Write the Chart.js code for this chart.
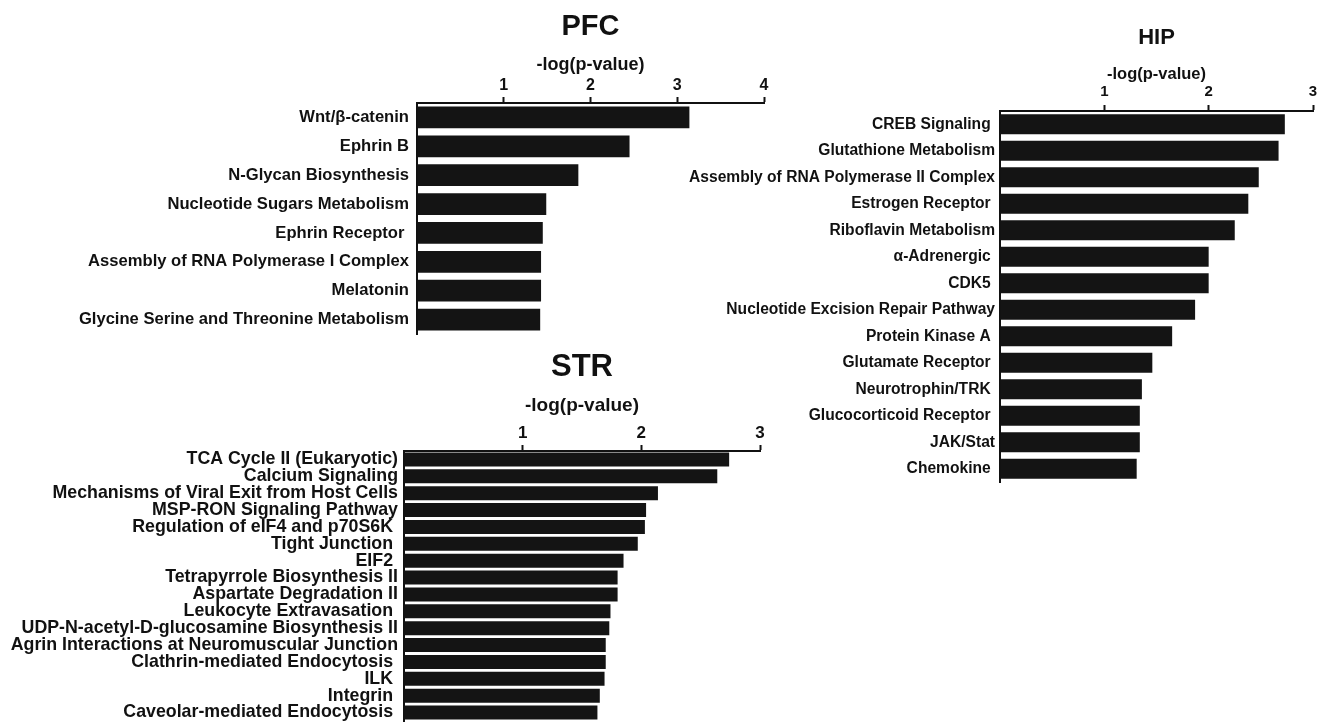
<!DOCTYPE html>
<html>
<head>
<meta charset="utf-8">
<title>PFC / HIP / STR -log(p-value)</title>
<script src="https://cdn.jsdelivr.net/npm/chart.js@4.4.1/dist/chart.umd.min.js"></script>
<style>
  html, body { margin: 0; padding: 0; background: #fff; }
  #wrap { position: relative; width: 1324px; height: 722px; overflow: hidden; }
  #wrap canvas { position: absolute; left: 0; top: 0; }
</style>
</head>
<body>
<div id="wrap">
  <canvas id="pfcChart" width="1324" height="722"></canvas>
  <canvas id="hipChart" width="1324" height="722"></canvas>
  <canvas id="strChart" width="1324" height="722"></canvas>
</div>
<script>
// 1. Data
const axisTitle = '-log(p-value)';

const pfcLabels = [
    'Wnt/β-catenin',
    'Ephrin B',
    'N-Glycan Biosynthesis',
    'Nucleotide Sugars Metabolism',
    'Ephrin Receptor ',
    'Assembly of RNA Polymerase I Complex',
    'Melatonin',
    'Glycine Serine and Threonine Metabolism'
];
const pfcValues = [3.14, 2.45, 1.86, 1.49, 1.45, 1.43, 1.43, 1.42];
const pfcMax = 4;

const strLabels = [
    'TCA Cycle II (Eukaryotic)',
    'Calcium Signaling',
    'Mechanisms of Viral Exit from Host Cells',
    'MSP-RON Signaling Pathway',
    'Regulation of eIF4 and p70S6K ',
    'Tight Junction ',
    'EIF2 ',
    'Tetrapyrrole Biosynthesis II',
    'Aspartate Degradation II',
    'Leukocyte Extravasation ',
    'UDP-N-acetyl-D-glucosamine Biosynthesis II',
    'Agrin Interactions at Neuromuscular Junction',
    'Clathrin-mediated Endocytosis ',
    'ILK ',
    'Integrin ',
    'Caveolar-mediated Endocytosis '
];
const strValues = [2.74, 2.64, 2.14, 2.04, 2.03, 1.97, 1.85, 1.80, 1.80, 1.74, 1.73, 1.70, 1.70, 1.69, 1.65, 1.63];
const strMax = 3;

const hipLabels = [
    'CREB Signaling ',
    'Glutathione Metabolism',
    'Assembly of RNA Polymerase II Complex',
    'Estrogen Receptor ',
    'Riboflavin Metabolism',
    'α-Adrenergic ',
    'CDK5 ',
    'Nucleotide Excision Repair Pathway',
    'Protein Kinase A ',
    'Glutamate Receptor ',
    'Neurotrophin/TRK ',
    'Glucocorticoid Receptor ',
    'JAK/Stat',
    'Chemokine '
];
const hipValues = [2.73, 2.67, 2.48, 2.38, 2.25, 2.00, 2.00, 1.87, 1.65, 1.46, 1.36, 1.34, 1.34, 1.31];
const hipMax = 3;

// 2. Common look
Chart.defaults.font.family = '"Liberation Sans", Arial, Helvetica, sans-serif';
Chart.defaults.color = '#111';

const PAGE_W = 1324;
const PAGE_H = 722;
const TICK_LEN = 6;

// Builds one panel. p holds the pixel box of the plot area and text sizes,
// the layout paddings are worked out from it so the plot lands where it should.
function buildPanel(id, title, labels, values, max, p) {
    const titleLH = p.titleSize * 1.2;
    const padTop = p.titleY - titleLH / 2;
    const axisTitleLH = p.axisTitleSize * 1.2;
    const axisTop = p.axisTitleY - axisTitleLH / 2;
    const xAxisH = p.top - axisTop;
    const titleGap = axisTop - (padTop + titleLH);
    const tickPad = p.top - p.tickY - TICK_LEN - p.tickSize * 1.2 / 2;
    const padRight = PAGE_W - p.right;
    const yAxisW = p.left;          // labels are clipped to the axis box, so give it all the room on the left
    const padBottom = PAGE_H - p.bottom;

    return new Chart(document.getElementById(id), {
        type: 'bar',
        data: {
            labels: labels,
            datasets: [{
                data: values,
                backgroundColor: '#141414',
                borderWidth: 0,
                barPercentage: p.barPct,
                categoryPercentage: 1
            }]
        },
        options: {
            indexAxis: 'y',
            responsive: false,
            animation: false,
            events: [],
            layout: {
                padding: { top: padTop, left: 0, right: padRight, bottom: padBottom }
            },
            plugins: {
                legend: { display: false },
                tooltip: { enabled: false },
                title: {
                    display: true,
                    fullSize: false,
                    text: title,
                    color: '#111',
                    font: { size: p.titleSize, weight: 'bold', lineHeight: 1.2 },
                    padding: { top: 0, bottom: titleGap }
                }
            },
            scales: {
                x: {
                    type: 'linear',
                    position: 'top',
                    min: 0,
                    max: max,
                    afterFit: s => { s.height = xAxisH; s.paddingLeft = 0; s.paddingRight = 0; },
                    ticks: {
                        stepSize: 1,
                        padding: tickPad,
                        maxRotation: 0,
                        color: '#111',
                        font: { size: p.tickSize, weight: 'bold', lineHeight: 1.2 },
                        callback: v => (v === 0 ? '' : v)
                    },
                    grid: {
                        drawOnChartArea: false,
                        drawTicks: true,
                        tickLength: TICK_LEN,
                        tickWidth: 2,
                        tickColor: c => (c.tick && c.tick.value === 0 ? 'rgba(0,0,0,0)' : '#111')
                    },
                    border: { display: true, color: '#111', width: 2 },
                    title: {
                        display: true,
                        text: axisTitle,
                        color: '#111',
                        font: { size: p.axisTitleSize, weight: 'bold', lineHeight: 1.2 },
                        padding: { top: 0, bottom: 0 }
                    }
                },
                y: {
                    afterFit: s => { s.width = yAxisW; s.paddingTop = 0; s.paddingBottom = 0; },
                    ticks: {
                        autoSkip: false,
                        padding: p.labelPad,
                        color: '#111',
                        font: { size: p.labelSize, weight: 'bold', lineHeight: 1.0 }
                    },
                    grid: { drawOnChartArea: false, drawTicks: false },
                    border: { display: true, color: '#111', width: 2 }
                }
            }
        }
    });
}

// 3. The three panels
buildPanel('pfcChart', 'PFC', pfcLabels, pfcValues, pfcMax, {
    left: 417, right: 764, top: 103, bottom: 334,
    titleY: 27, titleSize: 29,
    axisTitleY: 65, axisTitleSize: 18,
    tickY: 86, tickSize: 16,
    labelSize: 16.6, labelPad: 8, barPct: 0.75
});

buildPanel('hipChart', 'HIP', hipLabels, hipValues, hipMax, {
    left: 1000, right: 1313, top: 111, bottom: 482,
    titleY: 38, titleSize: 22,
    axisTitleY: 74, axisTitleSize: 16.5,
    tickY: 92, tickSize: 15,
    labelSize: 15.6, labelPad: 5, barPct: 0.75
});

buildPanel('strChart', 'STR', strLabels, strValues, strMax, {
    left: 404, right: 760, top: 451, bottom: 721,
    titleY: 367, titleSize: 31,
    axisTitleY: 406, axisTitleSize: 19,
    tickY: 433, tickSize: 17,
    labelSize: 17.8, labelPad: 6, barPct: 0.83
});
</script>
</body>
</html>
